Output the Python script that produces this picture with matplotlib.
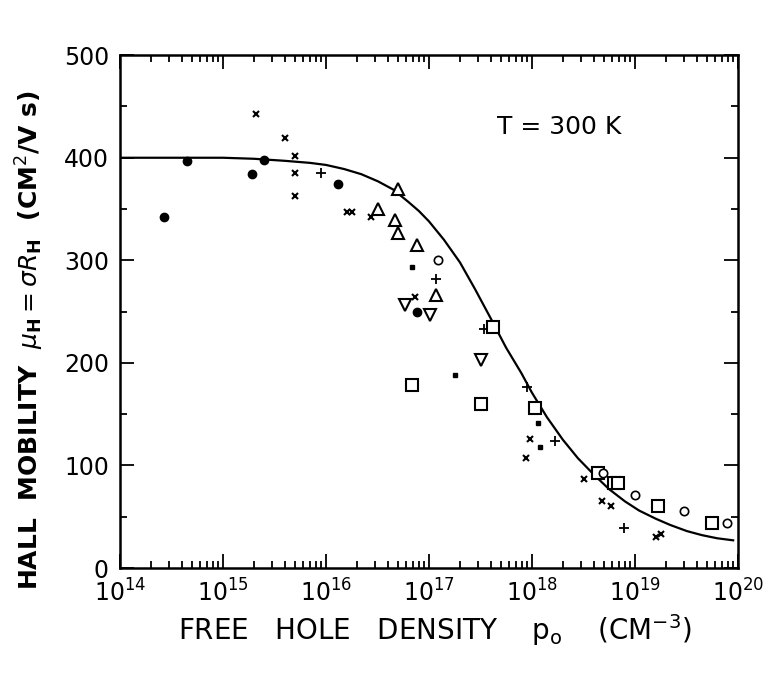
import numpy as np
import matplotlib
matplotlib.use("Agg")
import matplotlib.pyplot as plt
from matplotlib.ticker import LogLocator, FixedLocator, NullFormatter

# Hall mobility of holes vs free hole density, T = 300 K
# points (p in cm^-3, mu in cm^2/V s)

dots_p = [2.7e14, 4.5e14, 1.9e15, 2.5e15, 1.3e16, 7.6e16]
dots_mu = [342, 397, 384, 398, 374, 250]

small_p = [6.8e16, 1.8e17, 1.15e18, 1.2e18]
small_mu = [293, 188, 141, 118]

cross_p = [2.1e15, 4.0e15, 5.0e15, 5.0e15, 5.0e15, 1.6e16, 1.8e16, 2.75e16,
           7.4e16, 9.5e17, 8.7e17, 3.2e18, 4.8e18, 5.8e18, 1.6e19, 1.8e19]
cross_mu = [443, 419, 402, 385, 363, 347, 347, 342,
            264, 126, 107, 87, 65, 60, 30, 33]

plus_p = [8.9e15, 1.17e17, 3.4e17, 8.9e17, 1.66e18, 7.9e18]
plus_mu = [385, 282, 233, 176, 124, 39]

tri_up_p = [3.2e16, 5.0e16, 4.7e16, 5.0e16, 7.6e16, 1.17e17]
tri_up_mu = [350, 370, 339, 327, 315, 266]

tri_dn_p = [5.9e16, 1.02e17, 3.2e17]
tri_dn_mu = [256, 247, 203]

sq_p = [4.2e17, 6.9e16, 3.2e17, 1.07e18, 4.4e18, 6.2e18, 6.8e18, 1.66e19, 5.6e19]
sq_mu = [235, 178, 160, 156, 93, 83, 83, 60, 44]

circ_p = [1.23e17, 4.9e18, 1.0e19, 3.0e19, 7.8e19]
circ_mu = [300, 93, 71, 56, 44]

# solid curve
curve_p = [1e14, 1e15, 2e15, 4e15, 7e15, 1e16, 1.5e16, 2.2e16, 3.2e16, 4.5e16,
           6.3e16, 8e16, 1e17, 1.4e17, 2e17, 2.8e17, 4e17, 5.6e17, 7.9e17,
           1e18, 1.4e18, 2e18, 2.8e18, 4e18, 5.6e18, 8e18, 1.1e19, 1.6e19,
           2.2e19, 3.2e19, 4.5e19, 6.3e19, 9e19]
curve_mu = [400, 400, 399, 397, 395, 393, 389, 384, 377, 369,
            357, 348, 338, 320, 298, 272, 243, 215, 190,
            171, 147, 125, 107, 91, 77, 65, 56, 48,
            42, 36, 32, 29, 27]

fig = plt.figure(figsize=(7.67, 6.73), dpi=100)
ax = fig.add_axes([0.1565, 0.156, 0.8055, 0.762])

ax.plot(curve_p, curve_mu, color='black', lw=1.6)

ax.plot(dots_p, dots_mu, 'o', color='black', ms=6)
ax.plot(small_p, small_mu, 's', color='black', ms=3.5)
ax.plot(cross_p, cross_mu, 'x', color='black', ms=4.5, mew=1.5)
ax.plot(plus_p, plus_mu, '+', color='black', ms=7, mew=1.3)
ax.plot(tri_up_p, tri_up_mu, '^', mfc='white', mec='black', ms=9, mew=1.5)
ax.plot(tri_dn_p, tri_dn_mu, 'v', mfc='white', mec='black', ms=9, mew=1.5)
ax.plot(sq_p, sq_mu, 's', mfc='white', mec='black', ms=8, mew=1.5)
ax.plot(circ_p, circ_mu, 'o', mfc='white', mec='black', ms=6, mew=1.2)

ax.set_xscale('log')
ax.set_xlim(1e14, 1e20)
ax.set_ylim(0, 500)
ax.xaxis.set_major_locator(LogLocator(base=10, numticks=10))
ax.xaxis.set_minor_locator(LogLocator(base=10, subs=np.arange(2, 10), numticks=20))
ax.xaxis.set_minor_formatter(NullFormatter())
ax.yaxis.set_major_locator(FixedLocator([0, 100, 200, 300, 400, 500]))
ax.yaxis.set_minor_locator(FixedLocator([50, 150, 250, 350, 450]))

ax.tick_params(which='both', direction='in', top=True, right=True, width=1.3)
ax.tick_params(which='major', length=10, labelsize=17, pad=8)
ax.tick_params(which='minor', length=5)
for s in ax.spines.values():
    s.set_linewidth(1.8)

ax.text(0.61, 0.86, 'T = 300 K', transform=ax.transAxes, fontsize=18,
        va='center')

ax.set_xlabel(r'FREE   HOLE   DENSITY    p$_\mathregular{o}$    (CM$^{-3}$)',
              fontsize=20)
ax.xaxis.set_label_coords(0.51, -0.085)
ax.set_ylabel(r'HALL  MOBILITY  $\mu_\mathregular{H} = \sigma R_\mathregular{H}$  (CM$^2$/V s)',
              fontsize=18, fontweight='bold')
ax.yaxis.set_label_coords(-0.12, 0.445)

fig.savefig('out.png', dpi=100)
